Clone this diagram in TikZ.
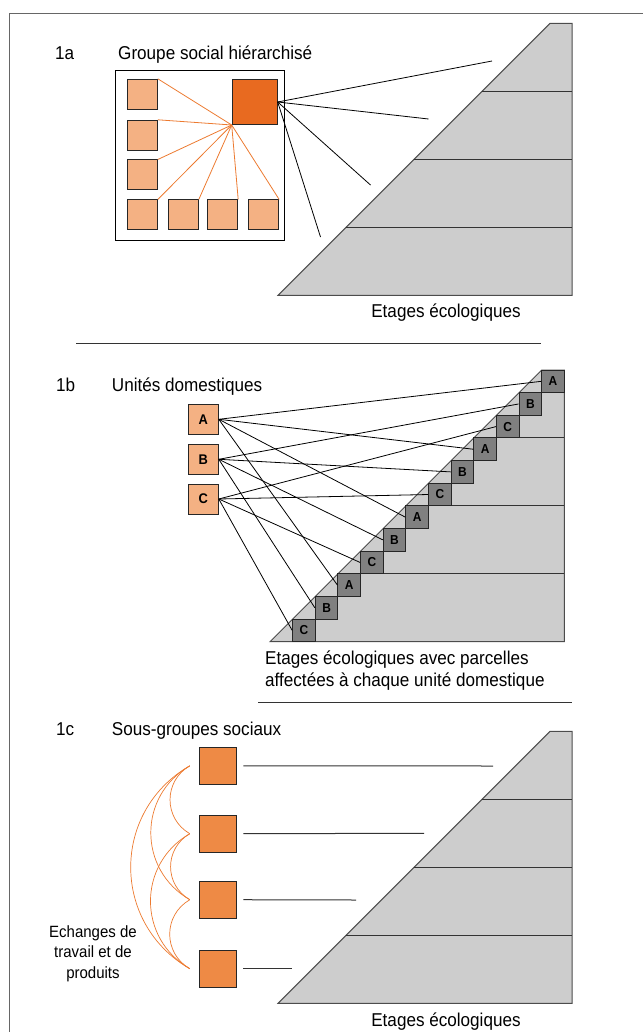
\documentclass[tikz,border=0pt]{standalone}
\usepackage{fontspec}
\setmainfont[FakeStretch=0.92]{Liberation Sans}

\definecolor{clair}{HTML}{F4B183}
\definecolor{fonce}{HTML}{E86A20}
\definecolor{moyen}{HTML}{EE8A45}
\definecolor{orangelien}{HTML}{EC7A30}
\definecolor{grisclair}{HTML}{CDCDCD}
\definecolor{grisfonce}{HTML}{808080}

\begin{document}
\begin{tikzpicture}[x=1pt, y=-1pt,
    titre/.style={inner sep=0pt, font=\fontsize{18.6}{22}\selectfont},
    carre/.style={draw=black!85, line width=1pt, inner sep=0pt},
    membre/.style={carre, fill=clair, minimum size=30pt},
    chef/.style={carre, fill=fonce, minimum size=45pt},
    unite/.style={carre, fill=clair, minimum size=30pt, font=\fontsize{14}{14}\bfseries},
    parcelle/.style={carre, fill=grisfonce, minimum size=22.64pt, font=\fontsize{13}{13}\bfseries},
    sousgroupe/.style={carre, fill=moyen, minimum size=37pt},
    lien/.style={black, line width=0.8pt},
    lienorange/.style={orangelien, line width=0.8pt},
    echange/.style={orangelien, line width=0.7pt, bend right=60, looseness=1.15},
    etage/.style={fill=grisclair, draw=black!70, line width=1pt},
    niveau/.style={black!80, line width=1pt}]

    % --- 画布与外框 ---
    % 坐标单位为 1pt，y 轴向下
    \useasboundingbox (0,0) rectangle (642,1032);
    \draw[black!60, line width=1.2pt] (9.7,1100) -- (9.7,13.3) -- (700,13.3);

    % --- 金字塔参数 ---
    % 1a 和 1c 的金字塔形状相同，只是底边位置不同
    \def\pyrG{278}
    \def\pyrD{572}
    \def\pyrH{272}
    % 1b 中每块地的边长（12 块叠成高 272）
    \def\s{22.64}

    % ===================== 1a =====================
    \node[titre, anchor=base west] (n1a) at (55,60) {1a};
    \node[titre, anchor=base west] (t1a) at (118,60) {Groupe social hiérarchisé};

    % 群体外框
    \draw[line width=1pt] (115.7,71) rectangle (284.3,240.3);

    % 首领与成员
    \node[chef] (chef) at (254.7,102) {};
    \foreach \n/\x/\y in {m1/142.3/94.3, m2/142.3/135.3, m3/142.3/175,
                          m4/142.3/215, m5/183.3/215, m6/222.7/215, m7/263.7/215}
        \node[membre] (\n) at (\x,\y) {};
    \foreach \i in {1,...,7}
        \draw[lienorange] (chef.south west) -- (m\i.north east);

    % 金字塔（1a 与 1c）
    \foreach \yb in {295.3,1003.3} {
        \draw[etage] (\pyrG,\yb) -- (\pyrG+\pyrH,\yb-\pyrH) -- (\pyrD,\yb-\pyrH)
            -- (\pyrD,\yb) -- cycle;
        \foreach \i in {1,2,3}
            \draw[niveau] (\pyrG+68*\i,\yb-68*\i) -- (\pyrD,\yb-68*\i);
    }

    % 首领连到各层（线没有到达金字塔）
    \coordinate (v1) at (492,61);
    \coordinate (v2) at (428.5,119);
    \coordinate (v3) at (370.5,185);
    \coordinate (v4) at (320.5,237);
    \foreach \i in {1,...,4}
        \draw[lien] (chef.east) -- (v\i);

    \node[titre, anchor=base] (e1a) at (446,317) {Etages écologiques};

    \draw[niveau] (76,343.3) -- (541,343.3);

    % ===================== 1b =====================
    \node[titre, anchor=base west] (n1b) at (56,391.7) {1b};
    \node[titre, anchor=base west] (t1b) at (111.7,391.7) {Unités domestiques};

    \node[unite] (uA) at (203.3,419.3) {A};
    \node[unite] (uB) at (203.3,459.3) {B};
    \node[unite] (uC) at (203.3,499) {C};

    % 阶梯金字塔
    \draw[etage] (270,641.7) -- (541.7,370) -- (564.3,370) -- (564.3,641.7) -- cycle;
    \foreach \i in {1,2,3}
        \draw[niveau] (541.7-3*\s*\i,370+3*\s*\i) -- (564.3,370+3*\s*\i);

    % 沿斜边排列的地块 A/B/C
    \foreach \k/\lab in {0/A,1/B,2/C,3/A,4/B,5/C,6/A,7/B,8/C,9/A,10/B,11/C}
        \node[parcelle] (p\k) at (553.02-\s*\k,381.32+\s*\k) {\lab};

    % 每个家户连到自己的地块
    \foreach \k in {0,3,6,9}
        \draw[lien] (uA.east) -- (p\k.west);
    \foreach \k in {1,4,7,10}
        \draw[lien] (uB.east) -- (p\k.west);
    \foreach \k in {2,5,8,11}
        \draw[lien] (uC.east) -- (p\k.west);

    % 多行文字的 base 是最后一行的基线
    \node[titre, anchor=base west, align=left] (e1b) at (265,686.3)
        {Etages écologiques avec parcelles\\affectées à chaque unité domestique};

    \draw[niveau] (258,702.3) -- (571.7,702.3);

    % ===================== 1c =====================
    \node[titre, anchor=base west] (n1c) at (56,735) {1c};
    \node[titre, anchor=base west] (t1c) at (111.7,735) {Sous-groupes sociaux};

    \node[sousgroupe] (s1) at (217.8,765.8) {};
    \node[sousgroupe] (s2) at (217.8,833.7) {};
    \node[sousgroupe] (s3) at (217.8,899.7) {};
    \node[sousgroupe] (s4) at (217.8,968.7) {};

    % 各子群连向金字塔的线
    \coordinate (f1) at (493,766);
    \coordinate (f2) at (424,833.3);
    \coordinate (f3) at (356,900);
    \coordinate (f4) at (291.7,968.7);
    \foreach \i in {1,...,4}
        \draw[niveau, shorten <=6.5pt] (s\i.east) -- (f\i);

    % 子群之间的交换弧线
    \foreach \a/\b in {1/2,2/3,3/4,1/3,2/4,1/4}
        \draw[echange] ([xshift=-9pt]s\a.west) to ([xshift=-9pt]s\b.west);

    \node[inner sep=0pt, font=\fontsize{16.3}{20.5}\selectfont, align=center, anchor=base]
        (ech) at (93,978) {Echanges de\\travail et de\\produits};

    \node[titre, anchor=base] (e1c) at (446,1026) {Etages écologiques};

\end{tikzpicture}
\end{document}
